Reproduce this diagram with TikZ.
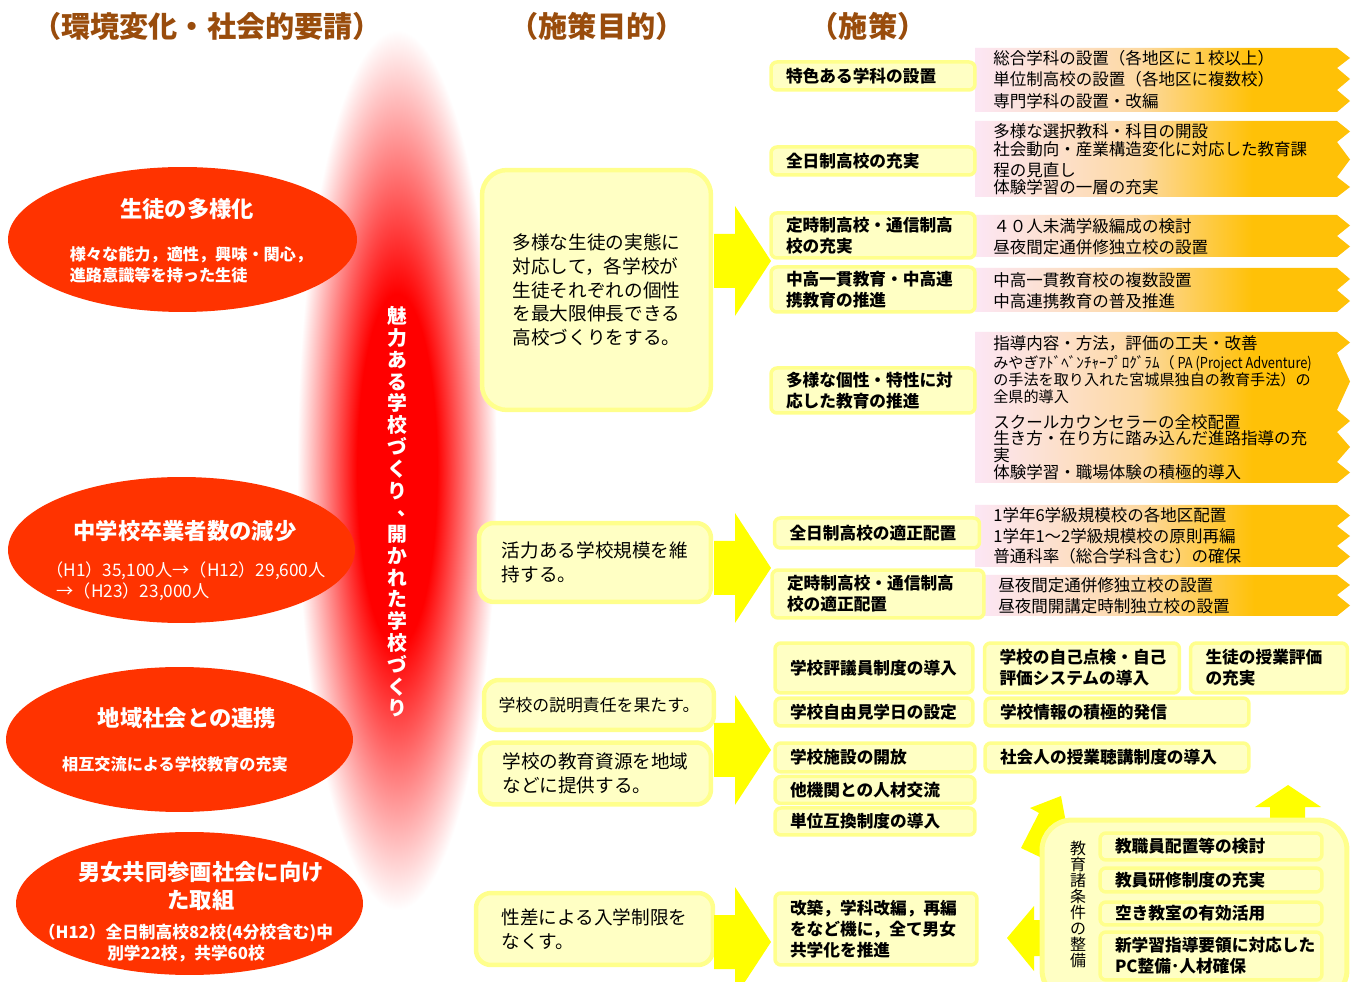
\documentclass[tikz,border=0pt]{standalone}
\usepackage{fontspec}
\usepackage{graphicx}
\setmainfont{Noto Sans CJK JP}
\usetikzlibrary{positioning, shapes.geometric}

\definecolor{ovalred}{HTML}{FF3300}
\definecolor{headbrown}{HTML}{994C0C}
\definecolor{boxfill}{HTML}{FFFFC4}
\definecolor{boxedge}{HTML}{FFFF8C}
\definecolor{bandpink}{HTML}{FCE6F4}
\definecolor{bandpeach}{HTML}{FDD9A2}
\definecolor{bandgold}{HTML}{FFC107}
\definecolor{bigyellow}{HTML}{FFFF00}
\colorlet{glowmid}{red!60!white}

\pgfdeclarehorizontalshading{bandshade}{100bp}{color(0bp)=(bandpink); color(25bp)=(bandpink); color(47bp)=(bandpeach); color(62bp)=(bandgold); color(100bp)=(bandgold)}
\pgfdeclareradialshading{glowshade}{\pgfpoint{0bp}{0bp}}{color(0bp)=(red); color(10bp)=(red); color(16bp)=(glowmid); color(25bp)=(white); color(50bp)=(white)}

\newcommand{\fs}[2]{\fontsize{#1}{#2}\selectfont}
% gradient row with a pointed right end: left, top, bottom
\newcommand{\bandrow}[3]{\shade[shading=bandshade] (#1,#2) -- (1337,#2) -- (1350,{(#2+#3)/2}) -- (1337,#3) -- (#1,#3) -- cycle;}
% big yellow arrow pointing right, centred on y
\newcommand{\bigarrow}[1]{\fill[bigyellow] (714,#1-27) -- (735,#1-27) -- (735,#1-55) -- (771,#1) -- (735,#1+55) -- (735,#1+27) -- (714,#1+27) -- cycle;}

\begin{document}
\begin{tikzpicture}[x=0.02cm, y=-0.02cm]
  \tikzstyle{head}=[text=headbrown, font=\bfseries\fs{16.6pt}{18pt}]
  \tikzstyle{oval}=[ellipse, fill=ovalred, inner sep=0pt]
  \tikzstyle{ovaltitle}=[text=white, align=center, font=\bfseries\fs{12.7pt}{16.4pt}]
  \tikzstyle{ovalsub}=[text=white, align=left, font=\bfseries\fs{9.2pt}{11.9pt}]
  \tikzstyle{pbox}=[draw=boxedge, line width=0.09cm, fill=boxfill, rounded corners=0.3cm, align=left, inner sep=0pt, font=\fs{10.6pt}{13.6pt}]
  \tikzstyle{mbox}=[draw=boxedge, line width=0.07cm, fill=boxfill, rounded corners=0.12cm, align=left, inner xsep=0.3cm, inner ysep=0pt, font=\bfseries\fs{9.5pt}{11.9pt}]
  \tikzstyle{bandtext}=[anchor=west, align=left, inner sep=0pt, font=\fs{9.4pt}{11.9pt}]

  \fill[white] (0,0) rectangle (1356,982);
  \useasboundingbox (0,0) rectangle (1356,982);

  % column headings
  \node[head] (h1) at (207,26) {（環境変化・社会的要請）};
  \node[head] (h2) at (597,26) {（施策目的）};
  \node[head] (h3) at (868,26) {（施策）};

  % red glow with the vertical slogan
  \shade[shading=glowshade] (397,470) ellipse [x radius=100, y radius=440];
  \node[text=white, align=center, font=\bfseries\fs{11.3pt}{12.4pt}] (slogan) at (397,512)
    {魅\\力\\あ\\る\\学\\校\\づ\\く\\り\\\makebox[1em][l]{\hspace{0.5em}\raisebox{0.2em}{、}}\\開\\か\\れ\\た\\学\\校\\づ\\く\\り};

  % left ovals
  \node[oval, minimum width=6.98cm, minimum height=2.9cm] (e1) at (182.5,239.5) {};
  \node[ovaltitle] (e1t) at (187,209) {生徒の多様化};
  \node[ovalsub] (e1s) at (191,265) {様々な能力，適性，興味・関心，\\進路意識等を持った生徒};

  \node[oval, minimum width=6.94cm, minimum height=2.92cm] (e2) at (181.5,550) {};
  \node[ovaltitle] (e2t) at (185,531) {中学校卒業者数の減少};
  \node[ovalsub, font=\fs{9.8pt}{11.9pt}] (e2s) at (186,581) {（H1）35,100人→（H12）29,600人\\\hspace*{0.6em}→（H23）23,000人};

  \node[oval, minimum width=6.94cm, minimum height=2.9cm] (e3) at (179.5,739.5) {};
  \node[ovaltitle] (e3t) at (187,718) {地域社会との連携};
  \node[ovalsub] (e3s) at (175,764) {相互交流による学校教育の充実};

  \node[oval, minimum width=6.94cm, minimum height=2.86cm] (e4) at (189.5,903.5) {};
  \node[ovaltitle] (e4t) at (201,886) {男女共同参画社会に向け\\た取組};
  \node[ovalsub, align=center, font=\bfseries\fs{9.5pt}{11.9pt}] (e4s) at (186,943) {（H12）全日制高校82校(4分校含む)中\\別学22校，共学60校};

  % purposes
  \node[pbox, rounded corners=0.5cm, minimum width=4.58cm, minimum height=4.8cm] (p1) at (596.5,290)
    {多様な生徒の実態に\\対応して，各学校が\\生徒それぞれの個性\\を最大限伸長できる\\高校づくりをする。};
  \node[pbox, minimum width=4.64cm, minimum height=1.58cm] (p2) at (595,562.5) {活力ある学校規模を維\\持する。};
  \node[pbox, minimum width=4.6cm, minimum height=1.0cm, font=\fs{9.6pt}{12pt}] (p3) at (599,705) {学校の説明責任を果たす。};
  \node[pbox, minimum width=4.62cm, minimum height=1.24cm] (p4) at (595.5,773.5) {学校の教育資源を地域\\などに提供する。};
  \node[pbox, minimum width=4.74cm, minimum height=1.44cm] (p5) at (594.5,929) {性差による入学制限を\\なくす。};

  \bigarrow{261}
  \bigarrow{568}
  \bigarrow{750}
  \bigarrow{942}

  % gradient rows
  \bandrow{975}{48}{68}   \bandrow{975}{68}{90}   \bandrow{975}{90}{112}
  \bandrow{975}{121}{142} \bandrow{975}{142}{177} \bandrow{975}{177}{197}
  \bandrow{975}{215}{236} \bandrow{975}{236}{257}
  \bandrow{975}{268}{290} \bandrow{975}{290}{312}
  \bandrow{975}{332}{353} \bandrow{975}{353}{410} \bandrow{975}{410}{432}
  \bandrow{975}{432}{462} \bandrow{975}{462}{483}
  \bandrow{975}{505}{526} \bandrow{975}{526}{546} \bandrow{975}{546}{567}
  \bandrow{982}{575}{595} \bandrow{982}{595}{616}

  \node[bandtext] (b1a) at (993,58) {総合学科の設置（各地区に１校以上）};
  \node[bandtext] (b1b) at (993,79) {単位制高校の設置（各地区に複数校）};
  \node[bandtext] (b1c) at (993,101) {専門学科の設置・改編};
  \node[bandtext] (b2a) at (993,131) {多様な選択教科・科目の開設};
  \node[bandtext] (b2b) at (993,159.5) {社会動向・産業構造変化に対応した教育課\\程の見直し};
  \node[bandtext] (b2c) at (993,187) {体験学習の一層の充実};
  \node[bandtext] (b3a) at (993,226) {４０人未満学級編成の検討};
  \node[bandtext] (b3b) at (993,247) {昼夜間定通併修独立校の設置};
  \node[bandtext] (b4a) at (993,280) {中高一貫教育校の複数設置};
  \node[bandtext] (b4b) at (993,301) {中高連携教育の普及推進};
  \node[bandtext] (b5a) at (993,343) {指導内容・方法，評価の工夫・改善};
  \node[bandtext, font=\fs{8.6pt}{9.6pt}] (b5b) at (993,380)
    {みやぎｱﾄﾞﾍﾞﾝﾁｬｰﾌﾟﾛｸﾞﾗﾑ（\scalebox{0.85}[1]{ PA (Project Adventure)}\\の手法を取り入れた宮城県独自の教育手法）の\\全県的導入};
  \node[bandtext] (b5c) at (993,422) {スクールカウンセラーの全校配置};
  \node[bandtext, font=\fs{9.4pt}{9.6pt}] (b5d) at (993,446.5) {生き方・在り方に踏み込んだ進路指導の充\\実};
  \node[bandtext] (b5e) at (993,472) {体験学習・職場体験の積極的導入};
  \node[bandtext] (b6a) at (993,515) {1学年6学級規模校の各地区配置};
  \node[bandtext] (b6b) at (993,536) {1学年1～2学級規模校の原則再編};
  \node[bandtext] (b6c) at (993,556) {普通科率（総合学科含む）の確保};
  \node[bandtext] (b7a) at (998,585) {昼夜間定通併修独立校の設置};
  \node[bandtext] (b7b) at (998,606) {昼夜間開講定時制独立校の設置};

  % measures
  \node[mbox, text width=3.48cm, minimum height=0.56cm] (m1) at (873,76) {特色ある学科の設置};
  \node[mbox, text width=3.48cm, minimum height=0.56cm] (m2) at (873,161) {全日制高校の充実};
  \node[mbox, text width=3.48cm, minimum height=0.9cm] (m3) at (873,235.5) {定時制高校・通信制高\\校の充実};
  \node[mbox, text width=3.48cm, minimum height=0.9cm] (m4) at (873,289.5) {中高一貫教育・中高連\\携教育の推進};
  \node[mbox, text width=3.48cm, minimum height=0.9cm] (m5) at (873,390.5) {多様な個性・特性に対\\応した教育の推進};
  \node[mbox, text width=3.5cm, minimum height=0.6cm] (m6) at (877,533) {全日制高校の適正配置};
  \node[mbox, text width=3.64cm, minimum height=0.96cm] (m7) at (878,594) {定時制高校・通信制高\\校の適正配置};
  \node[mbox, text width=3.36cm, minimum height=1.0cm] (m8) at (874,668) {学校評議員制度の導入};
  \node[mbox, text width=3.36cm, minimum height=0.56cm] (m9) at (874,712) {学校自由見学日の設定};
  \node[mbox, text width=3.4cm, minimum height=0.58cm] (m10) at (875,757.5) {学校施設の開放};
  \node[mbox, text width=3.4cm, minimum height=0.54cm, below=0.02cm of m10] (m11) {他機関との人材交流};
  \node[mbox, text width=3.4cm, minimum height=0.54cm, below=0.02cm of m11] (m12) {単位互換制度の導入};
  \node[mbox, text width=3.44cm, minimum height=1.44cm] (m13) at (876,929) {改築，学科改編，再編\\をなど機に，全て男女\\共学化を推進};
  \node[mbox, text width=3.3cm, minimum height=1.0cm] (m14) at (1082,668) {学校の自己点検・自己\\評価システムの導入};
  \node[mbox, text width=2.54cm, minimum height=1.0cm] (m15) at (1269,668) {生徒の授業評価\\の充実};
  \node[mbox, text width=4.68cm, minimum height=0.56cm] (m16) at (1117,712) {学校情報の積極的発信};
  \node[mbox, text width=4.68cm, minimum height=0.58cm] (m17) at (1117,757.5) {社会人の授業聴講制度の導入};

  % educational conditions
  \fill[bigyellow] (1270,822) -- (1270,807) -- (1255,807) -- (1288,785) -- (1321,807) -- (1305,807) -- (1305,822) -- cycle;
  \fill[bigyellow] (1021,848) -- (1039,813) -- (1030,808) -- (1061,796) -- (1067,828) -- (1059,824) -- (1042,858) -- cycle;
  \fill[bigyellow] (1046,920) -- (1034,920) -- (1034,906) -- (1007,938) -- (1034,971) -- (1034,956) -- (1046,956) -- cycle;
  \node[draw=boxedge, line width=0.1cm, fill=boxfill, rounded corners=0.6cm, minimum width=6.1cm, minimum height=3.6cm] (cond) at (1194.5,910) {};
  \node[align=center, inner sep=0pt, font=\fs{9.1pt}{9.1pt}] (condt) at (1078,904) {教\\育\\諸\\条\\件\\の\\整\\備};
  \node[mbox, text width=3.84cm, minimum height=0.54cm] (c1) at (1211,846.5) {教職員配置等の検討};
  \node[mbox, text width=3.84cm, minimum height=0.48cm] (c2) at (1211,880) {教員研修制度の充実};
  \node[mbox, text width=3.84cm, minimum height=0.46cm] (c3) at (1211,913.5) {空き教室の有効活用};
  \node[mbox, text width=3.84cm, minimum height=0.96cm] (c4) at (1211,956) {新学習指導要領に対応した\\PC整備･人材確保};
\end{tikzpicture}
\end{document}
